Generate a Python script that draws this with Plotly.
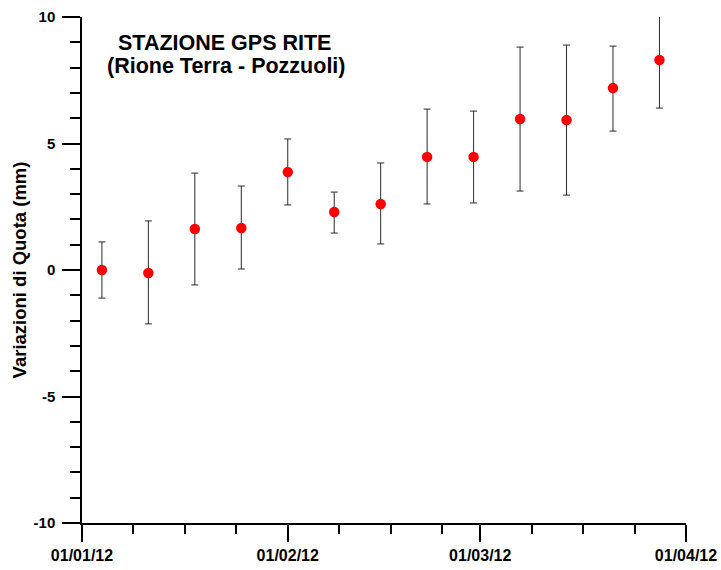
import plotly.graph_objects as go
import pandas as pd

# Data
dates = ["2012-01-04", "2012-01-11", "2012-01-18", "2012-01-25", "2012-02-01",
         "2012-02-08", "2012-02-15", "2012-02-22", "2012-02-29", "2012-03-07",
         "2012-03-14", "2012-03-21", "2012-03-28"]
quota = [0.0, -0.12, 1.62, 1.66, 3.87, 2.29, 2.61, 4.47, 4.47, 5.97, 5.93, 7.19, 8.30]
upper = [1.11, 1.94, 3.83, 3.32, 5.18, 3.08, 4.23, 6.36, 6.28, 8.81, 8.89, 8.85, 10.24]
lower = [-1.11, -2.13, -0.59, 0.04, 2.57, 1.46, 1.03, 2.61, 2.65, 3.12, 2.96, 5.49, 6.40]

title_lines = ["STAZIONE GPS RITE", "(Rione Terra - Pozzuoli)"]
y_title = "Variazioni di Quota (mm)"
month_starts = ["2012-01-01", "2012-02-01", "2012-03-01", "2012-04-01"]
y_ticks = [-10, -5, 0, 5, 10]
y_ticklabels = ["-10", "-5", "0", "5", "10"]
y_range = [-10, 10]

err_plus = [u - q for u, q in zip(upper, quota)]
err_minus = [q - l for q, l in zip(quota, lower)]

# minor ticks: quarter-month subdivisions starting from each month
minor_vals = []
for m in month_starts[:-1]:
    base = pd.Timestamp(m)
    for k in (1, 2, 3):
        minor_vals.append((base + pd.Timedelta(hours=7.75 * 24 * k)).strftime("%Y-%m-%d %H:%M"))

FONT = "Liberation Sans, Arial, sans-serif"
W, H = 721, 570
L, R, T, B = 82, 686, 17, 523
EB_COLOR = "#2a2a2a"

fig = go.Figure()
fig.add_trace(go.Scatter(
    x=dates, y=quota, mode="markers",
    marker=dict(color="#ff0000", size=10.5, line=dict(width=0)),
    error_y=dict(type="data", symmetric=False, array=err_plus, arrayminus=err_minus,
                 color=EB_COLOR, thickness=1, width=3.5),
    showlegend=False,
    cliponaxis=False,
))

# error-bar parts that extend beyond the top of the axis (drawn unclipped)
shapes = []
for d, u in zip(dates, upper):
    if u > y_range[1]:
        shapes.append(dict(type="line", xref="x", yref="y", x0=d, x1=d, y0=y_range[1], y1=u,
                           line=dict(color=EB_COLOR, width=1), layer="above"))
        shapes.append(dict(type="line", xref="x", yref="y", x0=d, x1=d, y0=u, y1=u,
                           xsizemode="pixel", xanchor=d, x0shift=0,
                           line=dict(color=EB_COLOR, width=1), layer="above"))

fig.update_layout(
    width=W, height=H,
    margin=dict(l=L, r=W - R, t=T, b=H - B, autoexpand=False),
    paper_bgcolor="white", plot_bgcolor="white",
    font=dict(family=FONT, color="black"),
    xaxis=dict(
        type="date", automargin=False,
        range=[month_starts[0], month_starts[-1]],
        tickmode="array", tickvals=month_starts,
        ticktext=[pd.Timestamp(m).strftime("%d/%m/%y") for m in month_starts],
        ticks="outside", ticklen=17, tickwidth=1.5, tickcolor="black",
        showline=True, linecolor="black", linewidth=1.5,
        showgrid=False, zeroline=False,
        tickfont=dict(family=FONT, size=16, color="black", weight="bold"),
        minor=dict(tickmode="array", tickvals=minor_vals, ticks="outside",
                   ticklen=9, tickwidth=1.5, tickcolor="black", showgrid=False),
    ),
    yaxis=dict(
        range=y_range, automargin=False,
        tickmode="array", tickvals=y_ticks, ticktext=y_ticklabels,
        ticks="outside", ticklen=18, tickwidth=1.5, tickcolor="black",
        ticklabelstandoff=4,
        showline=True, linecolor="black", linewidth=1.5,
        showgrid=False, zeroline=False,
        tickfont=dict(family=FONT, size=15, color="black", weight="bold"),
        minor=dict(tick0=-10, dtick=1, ticks="outside", ticklen=10, tickwidth=1.5,
                   tickcolor="black", showgrid=False),
        title=dict(text=y_title, standoff=2,
                   font=dict(family=FONT, size=18.5, color="black", weight="bold")),
    ),
    annotations=[
        dict(text=title_lines[0], xref="paper", yref="paper",
             x=(224 - L) / (R - L), y=(B - 43) / (B - T),
             xanchor="center", yanchor="middle", showarrow=False,
             font=dict(family=FONT, size=21.5, color="black", weight="bold")),
        dict(text=title_lines[1], xref="paper", yref="paper",
             x=(226 - L) / (R - L), y=(B - 66) / (B - T),
             xanchor="center", yanchor="middle", showarrow=False,
             font=dict(family=FONT, size=21.5, color="black", weight="bold")),
    ],
    shapes=shapes,
)

# remove the default page margin so the figure sits at the window's top-left corner
fig.write_html("out.html",
               config={"displayModeBar": False},
               post_script="document.body.style.margin='0';document.body.style.overflow='hidden';")
